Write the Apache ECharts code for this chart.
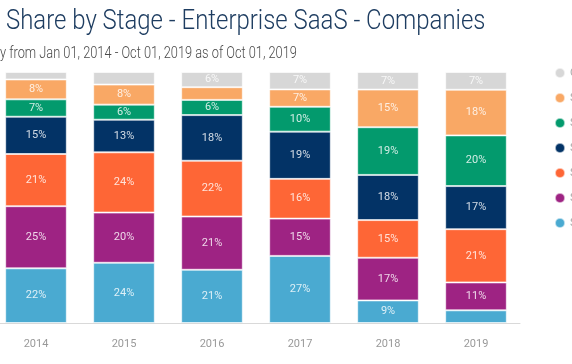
<!DOCTYPE html>
<html>
<head>
<meta charset="utf-8">
<script src="https://cdn.jsdelivr.net/npm/echarts@6/dist/echarts.min.js"></script>
<style>html,body{margin:0;padding:0;background:#fff;overflow:hidden;}#c{width:580px;height:364px;margin-left:-8px;}</style>
</head>
<body>
<div id="c"></div>
<script>
const years = ['2014', '2015', '2016', '2017', '2018', '2019'];
const stageNames = ['Seed/Angel', 'Series A', 'Series B', 'Series C', 'Series D', 'Series E+', 'Other'];
const seedAngel = [22, 24, 21, 27, 9, 5];
const seriesA  = [25, 20, 21, 15, 17, 11];
const seriesB  = [21, 24, 22, 16, 15, 21];
const seriesC  = [15, 13, 18, 19, 18, 17];
const seriesD  = [7, 6, 6, 10, 19, 20];
const seriesE  = [8, 8, 5, 7, 15, 18];
const other    = [3, 5, 6, 7, 7, 7];
const colors = ['#4aaad1', '#9e2383', '#fe6636', '#033366', '#039a6d', '#f9a865', '#d7d7d7'];

const raw = [seedAngel, seriesA, seriesB, seriesC, seriesD, seriesE, other];
const totals = years.map((_, i) => raw.reduce((s, arr) => s + arr[i], 0));

const series = raw.map((arr, k) => ({
  name: stageNames[k],
  type: 'bar',
  stack: 'total',
  barCategoryGap: '30%',
  itemStyle: { color: colors[k], borderColor: 'rgba(255,255,255,0.6)', borderWidth: 1 },
  data: arr.map((v, i) => ({ value: v / totals[i] * 100, raw: v })),
  label: {
    show: true,
    position: 'inside',
    fontFamily: 'Roboto',
    fontSize: 11,
    color: 'rgba(255,255,255,0.82)',
    formatter: p => p.data.raw > 5 ? p.data.raw + '%' : ''
  }
}));

const chart = echarts.init(document.getElementById('c'));
chart.setOption({
  animation: false,
  graphic: [
    { type: 'text', left: 14, top: 8, scaleX: 0.855,
      style: { text: 'Share by Stage - Enterprise SaaS - Companies', fontFamily: 'Roboto', fontWeight: 300, fontSize: 28, fill: '#1e3d61' } },
    { type: 'text', left: 8, top: 46, scaleX: 0.8,
      style: { text: 'y from Jan 01, 2014 - Oct 01, 2019 as of Oct 01, 2019', fontFamily: 'Roboto', fontWeight: 300, fontSize: 16, fill: '#4a4a4a' } }
  ],
  legend: {
    orient: 'vertical',
    left: 557, top: 62,
    icon: 'circle',
    itemWidth: 10, itemHeight: 10, itemGap: 13,
    data: stageNames.slice().reverse(),
    textStyle: { fontFamily: 'Roboto', fontSize: 11, color: '#aaa' }
  },
  grid: { left: 0, right: 52, top: 72, bottom: 41, containLabel: false },
  xAxis: {
    type: 'category',
    data: years,
    axisLine: { lineStyle: { color: '#d9d9d9' } },
    axisTick: { alignWithLabel: true, length: 11, lineStyle: { color: '#d9d9d9' } },
    axisLabel: { fontFamily: 'Roboto', fontSize: 11, color: '#999', margin: 16 }
  },
  yAxis: { type: 'value', min: 0, max: 100, show: false, splitLine: { show: false } },
  series: series
});
</script>
</body>
</html>
